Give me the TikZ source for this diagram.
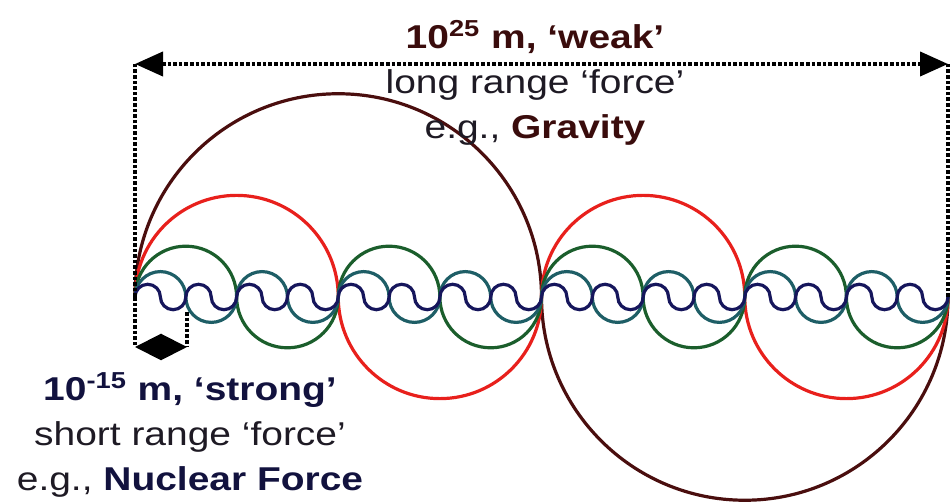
\documentclass[tikz,border=0pt]{standalone}
\usepackage{fontspec}
\setmainfont{Liberation Sans}[FakeStretch=1.18]
\usepackage{tikz}
\usetikzlibrary{arrows.meta,positioning}

\definecolor{brownc}{HTML}{4A0E0E}
\definecolor{redc}{HTML}{E8201C}
\definecolor{greenc}{HTML}{1B5E2C}
\definecolor{tealc}{HTML}{1E5E66}
\definecolor{navyc}{HTML}{16165C}
\definecolor{weakc}{HTML}{3A0C0C}
\definecolor{strongc}{HTML}{12123E}
\definecolor{textc}{HTML}{1E1A24}

\begin{document}
\begin{tikzpicture}[
  x=0.5pt, y=0.5pt,
  wave/.style={line width=1.6pt, line cap=round},
  dots/.style={line width=2pt, dash pattern=on 1.8pt off 1pt},
  dimarrow/.style={dots, {Triangle[length=14pt,width=12pt]}-{Triangle[length=14pt,width=12pt]}},
  smallarrow/.style={line width=1pt, {Triangle[length=13pt,width=13pt]}-{Triangle[length=13pt,width=13pt]}},
  lbl/.style={align=center, inner sep=0pt, text=textc, font=\fontsize{16.5}{22.5}\selectfont}
]
\useasboundingbox (0,0) rectangle (952,502);

% axis ends of the waves
\coordinate (L) at (135,205);
\coordinate (R) at (948,205);

% waves, longest first
\draw[wave, brownc] (L) \foreach \k in {1} {arc[start angle=180, end angle=0, radius=101.625pt] arc[start angle=180, end angle=360, radius=101.625pt]};
\draw[wave, redc] (L) \foreach \k in {1,...,2} {arc[start angle=180, end angle=0, radius=50.8125pt] arc[start angle=180, end angle=360, radius=50.8125pt]};
\draw[wave, greenc] (L) \foreach \k in {1,...,4} {arc[start angle=180, end angle=0, radius=25.406pt] arc[start angle=180, end angle=360, radius=25.406pt]};
\draw[wave, tealc] (L) \foreach \k in {1,...,8} {arc[start angle=180, end angle=0, radius=12.703pt] arc[start angle=180, end angle=360, radius=12.703pt]};
\draw[wave, navyc] (L) \foreach \k in {1,...,16} {arc[start angle=180, end angle=0, radius=6.352pt] arc[start angle=180, end angle=360, radius=6.352pt]};

% long range dimension
\coordinate (topL) at (135,438);
\coordinate (topR) at (948,438);
\draw[dots] (L) -- (topL);
\draw[dots] (R) -- (topR);
\draw[dimarrow] (topL) -- (topR);

% short range dimension
\coordinate (botL) at (135,155);
\coordinate (botR) at (187,155);
\coordinate (navyEnd) at (187,190);
\draw[dots] (L) -- (botL);
\draw[dots] (navyEnd) -- (botR);
\draw[smallarrow] (botL) -- (botR);

\node[lbl] (weak) at (535,419) {{\bfseries\color{weakc}10\textsuperscript{25} m, ‘weak’}\\long range ‘force’\\e.g., {\bfseries\color{weakc}Gravity}};
\node[lbl] (strong) at (190,67) {{\bfseries\color{strongc}10\textsuperscript{-15} m, ‘strong’}\\short range ‘force’\\e.g., {\bfseries\color{strongc}Nuclear Force}};
\end{tikzpicture}
\end{document}
